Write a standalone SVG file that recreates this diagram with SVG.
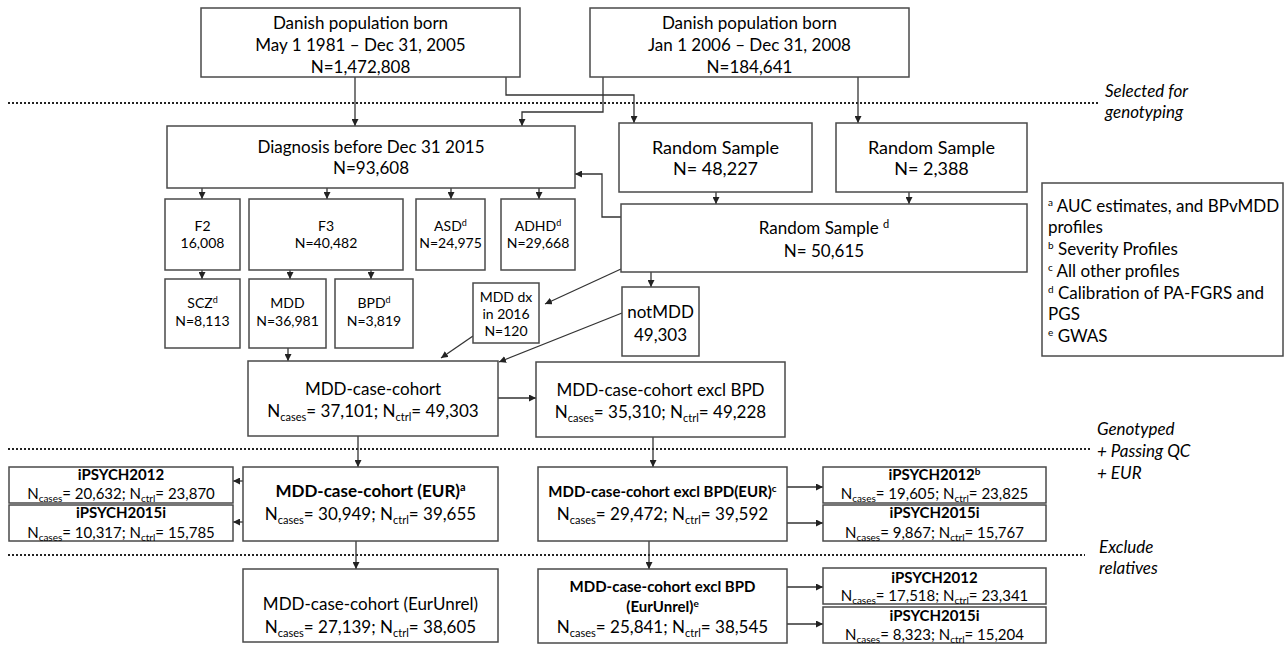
<svg xmlns="http://www.w3.org/2000/svg" width="1284" height="645" viewBox="0 0 1284 645">
<style>
.box{fill:#fff;stroke:#4a4a4a;stroke-width:1.5}
.t{font-family:Lato,"Liberation Sans",sans-serif;fill:#000;text-anchor:middle}
.b{font-weight:bold}
.l{font-family:Lato,"Liberation Sans",sans-serif;fill:#000}
.i{font-family:Lato,"Liberation Sans",sans-serif;font-style:italic;font-size:17px;fill:#000}
.c{fill:none;stroke:#333;stroke-width:1.3;marker-end:url(#ah)}
.dot{stroke:#222;stroke-width:2;stroke-dasharray:2 2}
.f17{font-size:17px}.f18{font-size:18px}.f14{font-size:14px}.f15{font-size:15px}.f16{font-size:16px}.fn{font-size:18px}
</style>
<defs>
<marker id="ah" markerUnits="userSpaceOnUse" markerWidth="7" markerHeight="7" refX="7" refY="3.5" orient="auto"><path d="M0,0 L7,3.5 L0,7 z" fill="#222"/></marker>
</defs>
<g id="separators">
<line class="dot" x1="8" y1="103" x2="1098" y2="103"/>
<line class="dot" x1="8" y1="449" x2="1090" y2="449"/>
<line class="dot" x1="8" y1="555" x2="1085" y2="555"/>
<text class="i" x="1105" y="97">Selected for</text>
<text class="i" x="1105" y="118">genotyping</text>
<text class="i" x="1097" y="435">Genotyped</text>
<text class="i" x="1097" y="457">+ Passing QC</text>
<text class="i" x="1097" y="479">+ EUR</text>
<text class="i" x="1099" y="553">Exclude</text>
<text class="i" x="1099" y="574">relatives</text>
</g>
<g id="connectors">
<path class="c" d="M355,77 V126"/>
<path class="c" d="M506,77 V95 H634 V123"/>
<path class="c" d="M603,77 V112 H522 V126"/>
<path class="c" d="M858,77 V123"/>
<path class="c" d="M202,188 V199"/>
<path class="c" d="M327,188 V199"/>
<path class="c" d="M451,188 V199"/>
<path class="c" d="M539,188 V199"/>
<path class="c" d="M202,270 V279"/>
<path class="c" d="M290,270 V279"/>
<path class="c" d="M371,270 V279"/>
<path class="c" d="M716,192 V204"/>
<path class="c" d="M909,192 V204"/>
<path class="c" d="M621,217 H602 V174 H575"/>
<path class="c" d="M621,269 L545,304"/>
<path class="c" d="M651,272 V287"/>
<path class="c" d="M288,348 V361"/>
<path class="c" d="M473,336 L441,358"/>
<path class="c" d="M622,313 L499,362"/>
<path class="c" d="M498,398 H536"/>
<path class="c" d="M358,436 V467"/>
<path class="c" d="M653,437 V467"/>
<path class="c" d="M243,481 H233"/>
<path class="c" d="M243,522 H233"/>
<path class="c" d="M787,487 H823"/>
<path class="c" d="M787,523 H823"/>
<path class="c" d="M356,541 V569"/>
<path class="c" d="M649,541 V569"/>
<path class="c" d="M787,587 H823"/>
<path class="c" d="M787,624 H823"/>
</g>
<g id="pop1981">
<rect class="box" x="201" y="8" width="319" height="69"/>
<text class="t f17" x="360.5" y="29">Danish population born</text>
<text class="t f17" x="360.5" y="51">May 1 1981 – Dec 31, 2005</text>
<text class="t f17" x="360.5" y="73">N=1,472,808</text>
</g>
<g id="pop2006">
<rect class="box" x="590" y="8" width="319" height="69"/>
<text class="t f17" x="749.5" y="29">Danish population born</text>
<text class="t f17" x="749.5" y="51">Jan 1 2006 – Dec 31, 2008</text>
<text class="t f17" x="749.5" y="73">N=184,641</text>
</g>
<g id="diagnosis">
<rect class="box" x="167" y="126" width="408" height="62"/>
<text class="t f17" x="371" y="153">Diagnosis before Dec 31 2015</text>
<text class="t f17" x="371" y="174">N=93,608</text>
</g>
<g id="random1">
<rect class="box" x="619" y="123" width="193" height="69"/>
<text class="t fn" x="715.5" y="154">Random Sample</text>
<text class="t fn" x="715.5" y="175">N= 48,227</text>
</g>
<g id="random2">
<rect class="box" x="836" y="123" width="191" height="69"/>
<text class="t fn" x="931.5" y="154">Random Sample</text>
<text class="t fn" x="931.5" y="175">N= 2,388</text>
</g>
<g id="legend">
<rect class="box" x="1042" y="183" width="241" height="173"/>
<text class="l f17" x="1048" y="212"><tspan font-size="10" dy="-6">a</tspan><tspan dy="6"> AUC estimates, and BPvMDD</tspan></text>
<text class="l f17" x="1048" y="233">profiles</text>
<text class="l f17" x="1048" y="255"><tspan font-size="10" dy="-6">b</tspan><tspan dy="6"> Severity Profiles</tspan></text>
<text class="l f17" x="1048" y="277"><tspan font-size="10" dy="-6">c</tspan><tspan dy="6"> All other profiles</tspan></text>
<text class="l f17" x="1048" y="299"><tspan font-size="10" dy="-6">d</tspan><tspan dy="6"> Calibration of PA-FGRS and</tspan></text>
<text class="l f17" x="1048" y="320">PGS</text>
<text class="l f17" x="1048" y="342"><tspan font-size="10" dy="-6">e</tspan><tspan dy="6"> GWAS</tspan></text>
</g>
<g id="f2">
<rect class="box" x="165" y="199" width="75" height="71"/>
<text class="t f14" x="202.5" y="231">F2</text>
<text class="t f14" x="202.5" y="248">16,008</text>
</g>
<g id="f3">
<rect class="box" x="249" y="199" width="154" height="71"/>
<text class="t f14" x="326" y="231">F3</text>
<text class="t f14" x="326" y="248">N=40,482</text>
</g>
<g id="asd">
<rect class="box" x="416" y="199" width="69" height="71"/>
<text class="t f14" x="450.5" y="231">ASD<tspan font-size="9" dy="-5">d</tspan></text>
<text class="t f14" x="450.5" y="248">N=24,975</text>
</g>
<g id="adhd">
<rect class="box" x="501" y="199" width="74" height="71"/>
<text class="t f14" x="538" y="231">ADHD<tspan font-size="9" dy="-5">d</tspan></text>
<text class="t f14" x="538" y="248">N=29,668</text>
</g>
<g id="random_d">
<rect class="box" x="621" y="204" width="406" height="68"/>
<text class="t f17" x="824" y="234">Random Sample <tspan font-size="11" dy="-6">d</tspan></text>
<text class="t f17" x="824" y="257">N= 50,615</text>
</g>
<g id="scz">
<rect class="box" x="165" y="279" width="75" height="69"/>
<text class="t f14" x="202.5" y="308">SCZ<tspan font-size="9" dy="-5">d</tspan></text>
<text class="t f14" x="202.5" y="326">N=8,113</text>
</g>
<g id="mdd">
<rect class="box" x="249" y="279" width="77" height="69"/>
<text class="t f14" x="287.5" y="308">MDD</text>
<text class="t f14" x="287.5" y="326">N=36,981</text>
</g>
<g id="bpd">
<rect class="box" x="335" y="279" width="78" height="69"/>
<text class="t f14" x="374" y="308">BPD<tspan font-size="9" dy="-5">d</tspan></text>
<text class="t f14" x="374" y="326">N=3,819</text>
</g>
<g id="mdd_dx">
<rect class="box" x="473" y="283" width="66" height="60"/>
<text class="t f14" x="506" y="302">MDD dx</text>
<text class="t f14" x="506" y="319">in 2016</text>
<text class="t f14" x="506" y="336">N=120</text>
</g>
<g id="notmdd">
<rect class="box" x="622" y="287" width="77" height="69"/>
<text class="t f17" x="660.5" y="318">notMDD</text>
<text class="t f17" x="660.5" y="341">49,303</text>
</g>
<g id="cohort">
<rect class="box" x="248" y="361" width="250" height="75"/>
<text class="t f17" x="373" y="395">MDD-case-cohort</text>
<text class="t f17" x="373" y="417">N<tspan font-size="11" dy="4">cases</tspan><tspan dy="-4">= 37,101; N</tspan><tspan font-size="11" dy="4">ctrl</tspan><tspan dy="-4">= 49,303</tspan></text>
</g>
<g id="cohort_exbpd">
<rect class="box" x="536" y="362" width="249" height="75"/>
<text class="t f17" x="660.5" y="396">MDD-case-cohort excl BPD</text>
<text class="t f17" x="660.5" y="418">N<tspan font-size="11" dy="4">cases</tspan><tspan dy="-4">= 35,310; N</tspan><tspan font-size="11" dy="4">ctrl</tspan><tspan dy="-4">= 49,228</tspan></text>
</g>
<g id="ipsych2012_eur">
<rect class="box" x="9" y="467" width="224" height="36"/>
<text class="t b f15" x="121" y="480">iPSYCH2012</text>
<text class="t f15" x="121" y="499">N<tspan font-size="10" dy="3">cases</tspan><tspan dy="-3">= 20,632; N</tspan><tspan font-size="10" dy="3">ctrl</tspan><tspan dy="-3">= 23,870</tspan></text>
</g>
<g id="ipsych2015_eur">
<rect class="box" x="9" y="505" width="224" height="36"/>
<text class="t b f15" x="121" y="518">iPSYCH2015i</text>
<text class="t f15" x="121" y="538">N<tspan font-size="10" dy="3">cases</tspan><tspan dy="-3">= 10,317; N</tspan><tspan font-size="10" dy="3">ctrl</tspan><tspan dy="-3">= 15,785</tspan></text>
</g>
<g id="cohort_eur">
<rect class="box" x="243" y="467" width="255" height="74"/>
<text class="t b f17" x="370.5" y="497">MDD-case-cohort (EUR)<tspan font-size="11" dy="-6">a</tspan></text>
<text class="t f17" x="370.5" y="520">N<tspan font-size="11" dy="4">cases</tspan><tspan dy="-4">= 30,949; N</tspan><tspan font-size="11" dy="4">ctrl</tspan><tspan dy="-4">= 39,655</tspan></text>
</g>
<g id="cohort_exbpd_eur">
<rect class="box" x="538" y="467" width="249" height="74"/>
<text class="t b f15" x="662.5" y="497">MDD-case-cohort excl BPD(EUR)<tspan font-size="10" dy="-5">c</tspan></text>
<text class="t f17" x="662.5" y="520">N<tspan font-size="11" dy="4">cases</tspan><tspan dy="-4">= 29,472; N</tspan><tspan font-size="11" dy="4">ctrl</tspan><tspan dy="-4">= 39,592</tspan></text>
</g>
<g id="ipsych2012_exbpd_eur">
<rect class="box" x="823" y="467" width="223" height="36"/>
<text class="t b f15" x="934.5" y="480">iPSYCH2012<tspan font-size="10" dy="-5">b</tspan></text>
<text class="t f15" x="934.5" y="499">N<tspan font-size="10" dy="3">cases</tspan><tspan dy="-3">= 19,605; N</tspan><tspan font-size="10" dy="3">ctrl</tspan><tspan dy="-3">= 23,825</tspan></text>
</g>
<g id="ipsych2015_exbpd_eur">
<rect class="box" x="823" y="505" width="223" height="36"/>
<text class="t b f15" x="934.5" y="518">iPSYCH2015i</text>
<text class="t f15" x="934.5" y="538">N<tspan font-size="10" dy="3">cases</tspan><tspan dy="-3">= 9,867; N</tspan><tspan font-size="10" dy="3">ctrl</tspan><tspan dy="-3">= 15,767</tspan></text>
</g>
<g id="cohort_eurunrel">
<rect class="box" x="243" y="569" width="255" height="73"/>
<text class="t f17" x="370.5" y="610">MDD-case-cohort (EurUnrel)</text>
<text class="t f17" x="370.5" y="633">N<tspan font-size="11" dy="4">cases</tspan><tspan dy="-4">= 27,139; N</tspan><tspan font-size="11" dy="4">ctrl</tspan><tspan dy="-4">= 38,605</tspan></text>
</g>
<g id="cohort_exbpd_eurunrel">
<rect class="box" x="538" y="569" width="249" height="74"/>
<text class="t b f15" x="662.5" y="592">MDD-case-cohort excl BPD</text>
<text class="t b f15" x="662.5" y="612">(EurUnrel)<tspan font-size="10" dy="-5">e</tspan></text>
<text class="t f17" x="662.5" y="633">N<tspan font-size="11" dy="4">cases</tspan><tspan dy="-4">= 25,841; N</tspan><tspan font-size="11" dy="4">ctrl</tspan><tspan dy="-4">= 38,545</tspan></text>
</g>
<g id="ipsych2012_unrel">
<rect class="box" x="823" y="568" width="223" height="36"/>
<text class="t b f15" x="934.5" y="583">iPSYCH2012</text>
<text class="t f15" x="934.5" y="601">N<tspan font-size="10" dy="3">cases</tspan><tspan dy="-3">= 17,518; N</tspan><tspan font-size="10" dy="3">ctrl</tspan><tspan dy="-3">= 23,341</tspan></text>
</g>
<g id="ipsych2015_unrel">
<rect class="box" x="823" y="607" width="223" height="36"/>
<text class="t b f15" x="934.5" y="621">iPSYCH2015i</text>
<text class="t f15" x="934.5" y="640">N<tspan font-size="10" dy="3">cases</tspan><tspan dy="-3">= 8,323; N</tspan><tspan font-size="10" dy="3">ctrl</tspan><tspan dy="-3">= 15,204</tspan></text>
</g>
</svg>
